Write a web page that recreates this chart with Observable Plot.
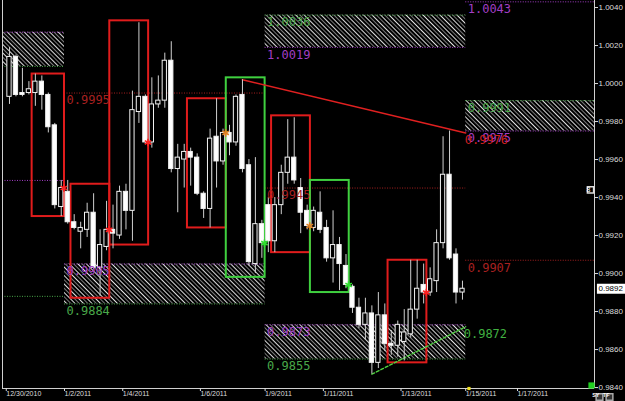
<!DOCTYPE html>
<html><head><meta charset="utf-8">
<script src="https://cdn.jsdelivr.net/npm/d3@7"></script>
<script src="https://cdn.jsdelivr.net/npm/@observablehq/plot@0.6"></script>
<style>
html,body{margin:0;padding:0;background:#000;}
#chart{width:625px;height:401px;overflow:hidden;background:#000}
</style></head><body><div id="chart"></div>
<script>
// ---- candle data (4-hour bars, index order) ----
const opens = [0.9993,1.0014,0.9995,0.9995,0.9995,1.0001,0.9994,0.9978,0.9935,0.9943,
0.9927,0.9922,0.9923,0.9932,0.9903,0.9914,0.9923,0.9920,0.9943,0.9933,
0.9985,0.9993,0.9969,0.9989,0.9991,1.0012,0.9955,0.9960,0.9964,0.9961,
0.9942,0.9934,0.9972,0.9959,0.9974,0.9969,0.9994,0.9957,0.9905,0.9926,
0.9936,0.9917,0.9936,0.9953,0.9961,0.9945,0.9933,0.9924,0.9932,0.9924,
0.9908,0.9915,0.9904,0.9893,0.9882,0.9873,0.9879,0.9853,0.9878,0.9863,
0.9862,0.9864,0.9868,0.9881,0.9894,0.9890,0.9896,0.9916,0.9952,0.9910,
0.9890];
const highs = [1.0019,1.0015,1.0008,1.0001,1.0005,1.0004,0.9995,0.9979,0.9949,0.9949,
0.9931,0.9927,0.9937,0.9942,0.9923,0.9938,0.9936,0.9946,0.9947,0.9996,
1.0032,0.9994,1.0003,1.0004,1.0016,1.0022,0.9968,0.9968,0.9966,0.9963,
0.9943,0.9976,0.9992,0.9976,0.9978,0.9994,1.0002,0.9960,0.9961,0.9928,
0.9940,0.9940,0.9957,0.9981,0.9982,0.9950,0.9936,0.9935,0.9943,0.9928,
0.9933,0.9919,0.9910,0.9894,0.9887,0.9887,0.9883,0.9890,0.9884,0.9870,
0.9875,0.9881,0.9907,0.9907,0.9905,0.9903,0.9923,0.9972,0.9975,0.9913,
0.9896];
const lows = [0.9989,0.9993,0.9993,0.9994,0.9988,0.9986,0.9974,0.9934,0.9930,0.9926,
0.9923,0.9913,0.9919,0.9902,0.9888,0.9912,0.9913,0.9918,0.9923,0.9917,
0.9979,0.9968,0.9966,0.9987,0.9987,0.9953,0.9932,0.9945,0.9946,0.9941,
0.9929,0.9924,0.9945,0.9957,0.9962,0.9967,0.9953,0.9904,0.9900,0.9908,
0.9911,0.9911,0.9931,0.9947,0.9947,0.9921,0.9923,0.9922,0.9921,0.9906,
0.9895,0.9891,0.9892,0.9879,0.9871,0.9865,0.9847,0.9850,0.9859,0.9857,
0.9856,0.9854,0.9866,0.9876,0.9884,0.9888,0.9890,0.9913,0.9907,0.9884,
0.9886];
const closes = [1.0014,0.9994,0.9994,0.9997,1.0001,0.9994,0.9977,0.9936,0.9945,0.9927,
0.9924,0.9924,0.9932,0.9903,0.9915,0.9923,0.9921,0.9943,0.9933,0.9986,
0.9993,0.9969,0.9989,0.9991,1.0012,0.9955,0.9961,0.9964,0.9961,0.9942,
0.9934,0.9971,0.9959,0.9974,0.9969,0.9993,0.9955,0.9906,0.9926,0.9916,
0.9917,0.9936,0.9953,0.9961,0.9949,0.9932,0.9925,0.9933,0.9923,0.9908,
0.9915,0.9905,0.9894,0.9882,0.9873,0.9879,0.9853,0.9878,0.9863,0.9862,
0.9873,0.9869,0.9881,0.9892,0.9890,0.9897,0.9916,0.9952,0.9908,0.9890,
0.9892];

// ---- axes ----
const xTickBars = [0, 9, 18, 30, 40, 49, 61, 71, 79];
const xTickLabels = ["12/30/2010","1/2/2011","1/4/2011","1/6/2011","1/9/2011","1/11/2011","1/13/2011","1/15/2011","1/17/2011"];
const yTicks = [1.0040,1.0020,1.0000,0.9980,0.9960,0.9940,0.9920,0.9900,0.9880,0.9860,0.9840];

// ---- hatched zones (x in bar units) ----
const zoneX1 = [-1.08, 8.5, 39.5, 39.5, 70.5];
const zoneX2 = [8.5, 39.5, 70.5, 70.5, 90.4];
const zoneTop = [1.0027, 0.9905, 1.0036, 0.9873, 0.9991];
const zoneBottom = [1.0009, 0.9884, 1.0019, 0.9855, 0.9975];
const zoneType = ["demand","demand","supply","demand","supply"];
const zoneLabeled = [false, true, true, true, true];

// ---- single dotted levels ----
const lineX1 = [-1.08, -1.08, 8.5, 39.5, 70.5, 70.5];
const lineX2 = [8.5, 8.5, 39.5, 70.5, 90.4, 90.4];
const linePrice = [0.9949, 0.9888, 0.9995, 0.9945, 0.9907, 1.0043];
const lineKind = ["upper","lower","pivot","pivot","pivot","upper"];
const lineLabeled = [false, false, true, true, true, true];

// ---- boxes ----
const boxStart = [4, 10, 16, 28, 34, 41, 47, 59];
const boxEnd = [8, 15, 21, 33, 39, 46, 52, 64];
const boxHigh = [1.0005, 0.9947, 1.0033, 0.9992, 1.0003, 0.9983, 0.9949, 0.9907];
const boxLow = [0.9930, 0.9887, 0.9915, 0.9924, 0.9898, 0.9911, 0.9890, 0.9853];
const boxType = ["down","down","down","down","up","down","up","down"];
const starType = ["sell","sell","sell","neutral","buy","neutral","buy","sell"];

// ---- trendlines ----
const redTrendBar = [36, 70.5];
const redTrendPrice = [1.0002, 0.9974];
const redTrendLabel = "0.9976";
const greenTrendBar = [56, 70.5];
const greenTrendPrice = [0.9847, 0.9872];
const greenTrendLabel = "0.9872";
const scrollMarkPrice = [0.9944];
const futureMarkBar = [71];

// ---- build ----
const purple = "#a23ec4", green = "#4aa84a", darkRed = "#a82020", boxRed = "#e01c1c", boxGreen = "#3fd03f";
const kindColor = {upper: purple, lower: green, pivot: darkRed};
const edgeColor = {demand: [purple, green], supply: [green, purple]};
const starColor = {sell: "#ff2020", buy: "#30e030", neutral: "#e08020"};
const xDom = [-1.08, 90.4], yDom = [0.98395, 1.00437];

const bars = opens.map((o, i) => ({i, o, h: highs[i], l: lows[i], c: closes[i]}));
const zones = zoneTop.map((top, k) => ({x1: zoneX1[k], x2: zoneX2[k], top, bottom: zoneBottom[k], type: zoneType[k], labeled: zoneLabeled[k]}));
const zoneLines = zones.flatMap(z => [
  {x1: z.x1, x2: z.x2, price: z.top, color: edgeColor[z.type][0], labeled: z.labeled},
  {x1: z.x1, x2: z.x2, price: z.bottom, color: edgeColor[z.type][1], labeled: z.labeled}]);
const levels = linePrice.map((p, k) => ({x1: lineX1[k], x2: lineX2[k], price: p, color: kindColor[lineKind[k]], labeled: lineLabeled[k]}));
const allLines = zoneLines.concat(levels);
const boxes = boxStart.map((s, k) => ({x1: s - 0.5, x2: boxEnd[k] + 0.5, top: boxHigh[k], bottom: boxLow[k], color: boxType[k] === "up" ? boxGreen : boxRed}));
const stars = boxEnd.map((b, k) => ({x: b + 0.4, y: closes[b], color: starColor[starType[k]]}));
const redTrend = redTrendBar.map((b, k) => ({x: b, y: redTrendPrice[k]}));
const greenTrend = greenTrendBar.map((b, k) => ({x: b, y: greenTrendPrice[k]}));
const xTickPos = xTickBars.map(b => b - 0.5);
const lcd = "DejaVu Sans Mono, monospace";
const last = closes[closes.length - 1];

const chart = Plot.plot({
  width: 625, height: 401,
  marginLeft: 2, marginRight: 31, marginTop: 0, marginBottom: 13,
  style: {background: "#000", color: "#ddd", fontFamily: "Liberation Sans, Arial, sans-serif", fontSize: "8px", overflow: "visible"},
  x: {domain: xDom, axis: null},
  y: {domain: yDom, axis: null},
  color: {type: "identity"},
  marks: [
    Plot.rect(zones, {x1: "x1", x2: "x2", y1: "bottom", y2: "top", fill: "url(#hatch)"}),
    Plot.ruleY(allLines, {y: "price", x1: "x1", x2: "x2", stroke: "color", strokeDasharray: "1,1.5", strokeWidth: 1}),
    Plot.ruleX([xDom[0], xDom[1]], {stroke: "#d0d0d0"}),
    Plot.ruleY([yDom[0]], {stroke: "#d0d0d0"}),
    Plot.rect(boxes, {x1: "x1", x2: "x2", y1: "bottom", y2: "top", fill: "none", stroke: "color", strokeWidth: 2}),
    Plot.line(redTrend, {x: "x", y: "y", stroke: "#e02020", strokeWidth: 1.6}),
    Plot.line(greenTrend, {x: "x", y: "y", stroke: "#50d040", strokeWidth: 1.4, strokeDasharray: "3,2"}),
    Plot.ruleX(bars, {x: "i", y1: "l", y2: "h", stroke: "#cfcfcf", strokeWidth: 1}),
    Plot.rect(bars, {x1: d => d.i - 0.33, x2: d => d.i + 0.33, y1: "o", y2: "c",
      fill: d => d.c < d.o ? "#ffffff" : "#000000", stroke: "#f2f2f2", strokeWidth: 1}),
    Plot.dot(stars, {x: "x", y: "y", symbol: "asterisk", r: 3.5, stroke: "color", strokeWidth: 1.6}),
    Plot.text(allLines.filter(d => d.labeled), {x: "x1", y: "price", text: d => d.price.toFixed(4), fill: "color",
      textAnchor: "start", dx: 2, dy: 7.5, fontFamily: lcd, fontSize: 12}),
    Plot.text([redTrend[1]], {x: "x", y: "y", text: () => redTrendLabel, fill: "#d02020", textAnchor: "start", dx: -1, dy: 7.5, fontFamily: lcd, fontSize: 12}),
    Plot.text([greenTrend[1]], {x: "x", y: "y", text: () => greenTrendLabel, fill: "#40b040", textAnchor: "start", dx: -2, dy: 7.5, fontFamily: lcd, fontSize: 12}),
    Plot.axisY({ticks: yTicks, anchor: "right", tickFormat: d => d.toFixed(4), tickSize: 3, tickPadding: 1, fontSize: 8, color: "#dddddd"}),
    Plot.axisX({ticks: xTickPos, tickFormat: d => xTickLabels[xTickPos.indexOf(d)], textAnchor: "start", tickSize: 3, tickPadding: 0, fontSize: 7, color: "#dddddd"}),
    Plot.ruleY([last], {x1: xDom[1] + 0.45, x2: xDom[1] + 4.85, stroke: "#ffffff", strokeWidth: 10}),
    Plot.text([last], {y: d => d, frameAnchor: "right", text: d => d.toFixed(4), textAnchor: "start", dx: 4, fill: "#000", fontSize: 8}),
    Plot.dot(scrollMarkPrice, {y: d => d, frameAnchor: "right", symbol: "square", r: 3.5, stroke: "#ddd", fill: "#000", dx: -4}),
    Plot.text(scrollMarkPrice, {y: d => d, frameAnchor: "right", text: () => "8", fill: "#fff", fontSize: 7, dx: -4}),
    Plot.dot(futureMarkBar, {x: d => d, frameAnchor: "bottom", symbol: "square", r: 1.8, fill: "#f0e020"}),
    Plot.dot([0], {frameAnchor: "bottom-right", symbol: "square", r: 3.5, fill: "#20d020", dx: -3, dy: -3}),
    Plot.dot([0], {frameAnchor: "bottom-right", symbol: "square", r: 3.8, fill: "#333", stroke: "#aaa", dx: 5, dy: 8.5}),
    Plot.dot([0], {frameAnchor: "bottom-right", symbol: "square", r: 3.8, fill: "#333", stroke: "#aaa", dx: 15, dy: 8.5}),
    Plot.text([0], {frameAnchor: "bottom-right", text: () => "SY", fill: "#fff", fontSize: 5.5, fontWeight: "bold", dx: 5, dy: 8.5}),
    Plot.text([0], {frameAnchor: "bottom-right", text: () => "TF", fill: "#fff", fontSize: 5.5, fontWeight: "bold", dx: 15, dy: 8.5})
  ]
});

const ns = "http://www.w3.org/2000/svg";
const defs = document.createElementNS(ns, "defs");
defs.innerHTML = '<pattern id="hatch" patternUnits="userSpaceOnUse" width="6" height="6" patternTransform="rotate(-45)">' +
  '<line x1="0.5" y1="-1" x2="0.5" y2="7" stroke="#e0e0e0" stroke-width="1"/>' +
  '<line x1="3.5" y1="-1" x2="3.5" y2="7" stroke="#7a7a7a" stroke-width="1"/></pattern>';
chart.insertBefore(defs, chart.firstChild);
document.getElementById("chart").appendChild(chart);
</script></body></html>
